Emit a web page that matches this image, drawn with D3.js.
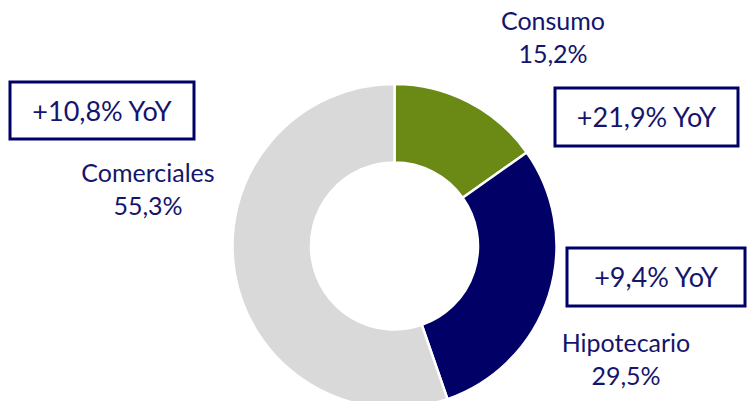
<!DOCTYPE html>
<html>
<head>
<meta charset="utf-8">
<script src="https://cdn.jsdelivr.net/npm/d3@7"></script>
<style>
html,body{margin:0;padding:0;background:#fff;}
svg{display:block;}
text{font-family:Lato, "Open Sans", sans-serif;}
</style>
</head>
<body>
<svg id="chart" width="747" height="401"></svg>
<script>
// ---- data ----
const categories = ["Consumo", "Hipotecario", "Comerciales"];
const shares = [15.2, 29.5, 55.3];
const yoyLabels = ["+21,9% YoY", "+9,4% YoY", "+10,8% YoY"];

// ---- layout / style ----
const colors = ["#6b8915", "#000066", "#d9d9d9"];
const textColor = "#15156b";
const cx = 394.5, cy = 246, outerR = 162, innerR = 83.5;
// label anchor (center x, baseline of first line) per category
const labelPos = [[553, 30], [626, 352], [148, 182]];
// YoY box [x, y, w, h] per category
const boxPos = [[555, 88, 183, 58], [567, 248, 178, 58], [10, 82, 184, 57]];
const lineGap = 33;

const svg = d3.select("#chart");
const fmt = v => v.toFixed(1).replace(".", ",") + "%";

const pie = d3.pie().sort(null).value(d => d)(shares);
const arc = d3.arc().innerRadius(innerR).outerRadius(outerR);

svg.append("g").attr("transform", `translate(${cx},${cy})`)
  .selectAll("path").data(pie).join("path")
  .attr("d", arc)
  .attr("fill", (d, i) => colors[i])
  .attr("stroke", "#fff")
  .attr("stroke-width", 2.5)
  .attr("stroke-linejoin", "miter");

// category labels
categories.forEach((c, i) => {
  const [x, y] = labelPos[i];
  const t = svg.append("text")
    .attr("x", x).attr("y", y)
    .attr("text-anchor", "middle")
    .attr("font-size", 25)
    .attr("fill", textColor);
  t.append("tspan").attr("x", x).attr("y", y).text(c);
  t.append("tspan").attr("x", x).attr("y", y + lineGap).text(fmt(shares[i]));
});

// YoY boxes
yoyLabels.forEach((l, i) => {
  const [x, y, w, h] = boxPos[i];
  svg.append("rect")
    .attr("x", x).attr("y", y).attr("width", w).attr("height", h)
    .attr("fill", "#fff")
    .attr("stroke", "#000066")
    .attr("stroke-width", 3);
  svg.append("text")
    .attr("x", x + w / 2).attr("y", y + h / 2 + 10)
    .attr("text-anchor", "middle")
    .attr("font-size", 27)
    .attr("fill", textColor)
    .text(l);
});
</script>
</body>
</html>
